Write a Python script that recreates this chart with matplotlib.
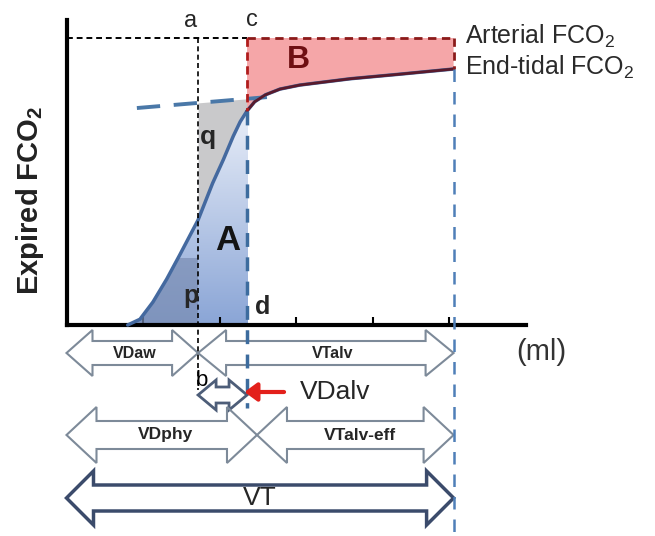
import numpy as np
import matplotlib
matplotlib.use("Agg")
import matplotlib.pyplot as plt
from matplotlib.patches import Polygon, Rectangle
from matplotlib.colors import to_rgb

plt.rcParams["font.family"] = ["Liberation Sans", "DejaVu Sans"]
plt.rcParams["mathtext.fontset"] = "custom"
plt.rcParams["mathtext.rm"] = "Liberation Sans"
plt.rcParams["mathtext.bf"] = "Liberation Sans:bold"

# capnogram (expired volume in ml, FCO2 in %)
vol = np.array([80, 96, 113, 131, 148, 172, 191, 205, 218, 227, 236, 246,
                260, 279, 305, 371, 436, 506])
fco2 = np.array([0, 0.10, 0.40, 0.80, 1.22, 1.83, 2.47, 2.88, 3.29, 3.54,
                 3.73, 3.89, 4.01, 4.11, 4.18, 4.29, 4.37, 4.46])

# phase III extrapolation line
p3_vol = [92, 262]
p3_fco2 = [3.78, 3.97]

pa_co2 = 5.0      # arterial
pet_co2 = 4.46    # end-tidal
vol_a = 172       # line a-b
vol_c = 236       # line c-d
vol_phy = 249     # end of VDphy
vol_end = 506     # VT
x_ticks = [100, 200, 300, 400, 500]

# pixel -> data scale factors
XS = 1 / 0.765
YS = 1 / 57.4

fig = plt.figure(figsize=(6.55, 5.36), dpi=100)
ax = fig.add_axes([66.5 / 655, 0, 459 / 655, 1])
ax.set_xlim(0, 600)
ax.set_ylim(-211 * YS, 325 * YS)

for s in ["top", "right"]:
    ax.spines[s].set_visible(False)
ax.spines["bottom"].set_position(("data", 0))
ax.spines["bottom"].set_bounds(0, 600)
ax.spines["left"].set_bounds(0, 305 * YS)
ax.spines["bottom"].set_linewidth(3)
ax.spines["left"].set_linewidth(3)
ax.set_xticks(x_ticks)
ax.set_xticklabels([])
ax.set_yticks([])
ax.tick_params(axis="x", direction="in", length=6, width=1.5)

curve_poly = np.column_stack([np.r_[vol, vol[-1]], np.r_[fco2, 0]])
curve_patch = Polygon(curve_poly, closed=True, fc="none", ec="none")
ax.add_patch(curve_patch)

# A: gradient under curve up to c
top = 3.95
c1, c2 = np.array(to_rgb("#8aa5d6")), np.array(to_rgb("#eef2fa"))
t = np.linspace(0, 1, 256)[:, None, None]
grad = c1 * (1 - t) + c2 * t
im = ax.imshow(grad, extent=(vol[0], vol_c, 0, top), origin="lower",
               aspect="auto", zorder=1)
im.set_clip_path(curve_patch)

# p region
prect = Rectangle((vol[0], 0), vol_a - vol[0], 67 * YS, fc="#7a8db3",
                  ec="none", alpha=0.7, zorder=2)
ax.add_patch(prect)
prect.set_clip_path(curve_patch)

# q region
xq = np.r_[vol_a, vol[(vol > vol_a) & (vol < vol_c)], vol_c]
ax.fill_between(xq, np.interp(xq, vol, fco2), np.interp(xq, p3_vol, p3_fco2),
                color="#c9c9cb", lw=0, zorder=2)

# B region
xb = np.r_[vol_c, vol[vol > vol_c]]
yb = np.interp(xb, vol, fco2)
ax.add_patch(Polygon(np.column_stack([np.r_[xb, vol_end, vol_c],
                                      np.r_[yb, pa_co2, pa_co2]]),
                     closed=True, fc="#f5a6a8", ec="none", zorder=2))

# curve and guide lines
ax.plot(vol, fco2, color="#44699f", lw=2.5, zorder=4, solid_capstyle="round")
ax.plot(xb, yb, color="#5a1a2c", lw=2, zorder=5)
ax.plot(p3_vol, p3_fco2, color="#4a78a8", lw=2.8, dashes=(6, 3.5), zorder=4)
ax.plot([0, vol_c], [pa_co2, pa_co2], color="black", lw=1.4, dashes=(3, 2), zorder=5)
ax.plot([vol_c, vol_end], [pa_co2, pa_co2], color="#8b1a1a", lw=2, dashes=(3, 2), zorder=5)
ax.plot([vol_c, vol_c], [pa_co2, np.interp(vol_c, vol, fco2)], color="#b01c1c",
        lw=2, dashes=(3, 2), zorder=5)
ax.plot([vol_end, vol_end], [pa_co2, pet_co2], color="#8b1a1a", lw=2,
        dashes=(3, 2), zorder=5)
ax.plot([vol_a, vol_a], [pa_co2, -65 * YS], color="black", lw=1.2,
        dashes=(3, 2), zorder=6, clip_on=False)
ax.plot([vol_c, vol_c], [np.interp(vol_c, vol, fco2), -83 * YS], color="#3d6c9e",
        lw=2.5, dashes=(4, 3), zorder=6, clip_on=False)
ax.plot([vol_end, vol_end], [pet_co2, -211 * YS], color="#4f7fb8", lw=1.8,
        dashes=(5, 4), zorder=6, clip_on=False)


def double_arrow(x0, x1, yc, hl, hh, sh, ec="#7d8a99", lw=1.5):
    L, H, h = hl * XS, hh * YS, sh * YS
    pts = [(x0, yc), (x0 + L, yc + H), (x0 + L, yc + h), (x1 - L, yc + h),
           (x1 - L, yc + H), (x1, yc), (x1 - L, yc - H), (x1 - L, yc - h),
           (x0 + L, yc - h), (x0 + L, yc - H)]
    ax.add_patch(Polygon(pts, closed=True, fill=False, ec=ec, lw=lw,
                         joinstyle="miter", clip_on=False, zorder=3))


row1, row2, row3, row4 = -28 * YS, -70 * YS, -110 * YS, -173 * YS
double_arrow(0, vol_a, row1, 26, 23, 12)
double_arrow(vol_a, vol_end, row1, 28, 23, 12)
double_arrow(vol_a, vol_c, row2, 18, 15, 8, ec="#4d5d78", lw=2)
double_arrow(0, vol_phy, row3, 30, 28, 14)
double_arrow(vol_phy, vol_end, row3, 30, 28, 14)
double_arrow(0, vol_end, row4, 27, 27, 13, ec="#3b4b6b", lw=2.5)

ax.annotate("", xy=(229, -67 * YS), xytext=(288, -67 * YS),
            arrowprops=dict(arrowstyle="-|>,head_length=0.75,head_width=0.55",
                            color="#e3201b", lw=3), annotation_clip=False, zorder=7)

# labels
dark = "#262626"
ax.text(89, row1, "VDaw", ha="center", va="center", fontsize=11.5, weight="bold", color=dark)
ax.text(348, row1, "VTalv", ha="center", va="center", fontsize=11.5, weight="bold", color=dark)
ax.text(130, row3, "VDphy", ha="center", va="center", fontsize=12.5, weight="bold", color=dark)
ax.text(384, row3, "VTalv-eff", ha="center", va="center", fontsize=12.5, weight="bold", color=dark)
ax.text(253, row4, "VT", ha="center", va="center", fontsize=19, color=dark, zorder=8)
ax.text(305, -67 * YS, "VDalv", ha="left", va="center", fontsize=19, color=dark)
ax.text(621, -27 * YS, "(ml)", ha="center", va="center", fontsize=21, color="#333333")
ax.text(177, -55 * YS, "b", ha="center", va="center", fontsize=16, color="black", zorder=8)

ax.text(162, 304 * YS, "a", ha="center", va="center", fontsize=17, color=dark)
ax.text(243, 305 * YS, "c", ha="center", va="center", fontsize=17, color=dark)
ax.text(303, 4.62, "B", ha="center", va="center", fontsize=23, weight="bold", color="#6e0f12", zorder=8)
ax.text(185, 3.28, "q", ha="center", va="center", fontsize=19, weight="bold", color=dark, zorder=8)
ax.text(211, 1.48, "A", ha="center", va="center", fontsize=25, weight="bold", color="#141414", zorder=8)
ax.text(163, 0.5, "p", ha="center", va="center", fontsize=18, weight="bold", color=dark, zorder=8)
ax.text(256, 0.31, "d", ha="center", va="center", fontsize=18, weight="bold", color=dark, zorder=8)

ax.text(521, 5.03, r"Arterial FCO$_2$", ha="left", va="center", fontsize=18, color="#2a2a2a")
ax.text(521, 4.49, r"End-tidal FCO$_2$", ha="left", va="center", fontsize=18, color="#2a2a2a")

fig.text(30 / 655, 1 - 200 / 536, r"Expired FCO$_\mathbf{2}$", rotation=90,
         ha="center", va="center", fontsize=21, weight="bold", color="#222222")

fig.savefig("out.png", dpi=100, facecolor="white")
